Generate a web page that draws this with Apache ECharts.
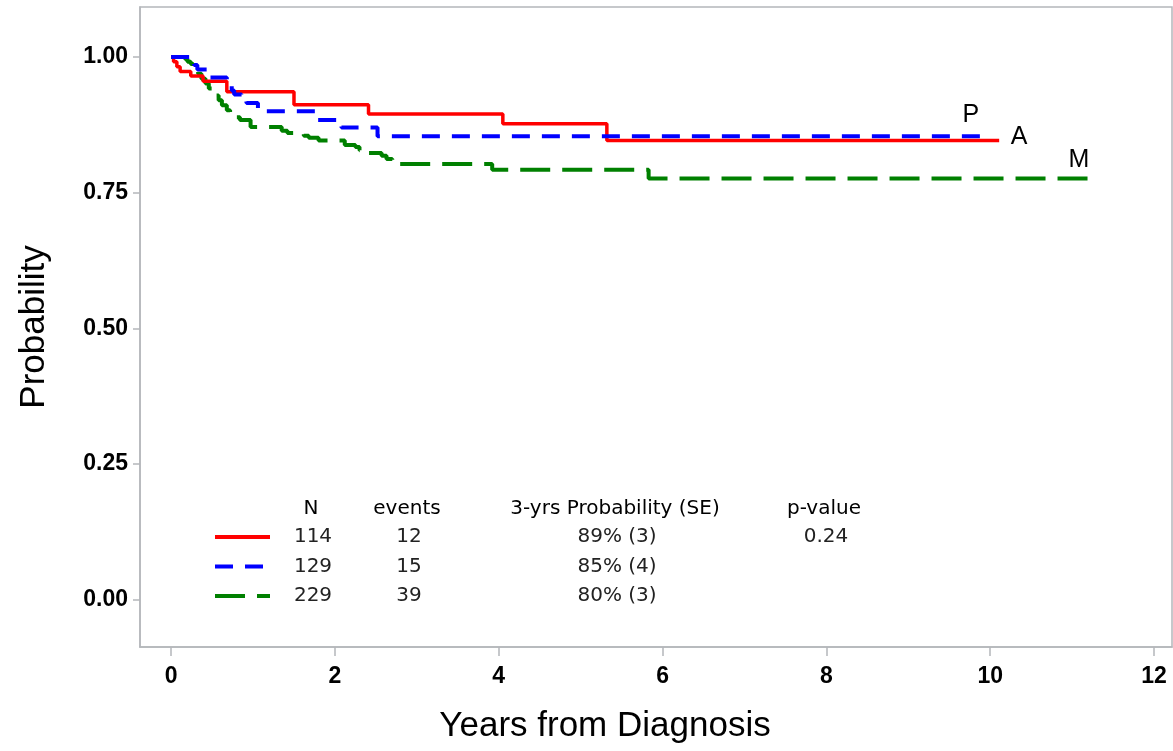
<!DOCTYPE html>
<html>
<head>
<meta charset="utf-8">
<script src="https://cdn.jsdelivr.net/npm/echarts@6/dist/echarts.min.js"></script>
<style>
html,body{margin:0;padding:0;background:#fff;}
#chart{width:1173px;height:751px;}
</style>
</head>
<body>
<div id="chart"></div>
<script>
// Group A (red, solid)
const timesA = [0, 0.03, 0.07, 0.11, 0.24, 0.39, 0.68, 1.50, 2.41, 4.05, 5.32, 10.11];
const survA  = [1.0, 0.991, 0.982, 0.973, 0.965, 0.955, 0.936, 0.912, 0.895, 0.877, 0.846, 0.846];
// Group P (blue, dashed)
const timesP = [0, 0.24, 0.28, 0.32, 0.45, 0.48, 0.68, 0.71, 0.74, 0.77, 0.86, 0.92, 1.06, 1.76, 2.04, 2.08, 2.52, 9.96];
const survP  = [1.0, 0.992, 0.985, 0.977, 0.969, 0.962, 0.954, 0.946, 0.938, 0.931, 0.923, 0.915, 0.900, 0.884, 0.877, 0.870, 0.854, 0.854];
// Group M (green, long dashed)
const timesM = [0, 0.17, 0.20, 0.24, 0.27, 0.30, 0.33, 0.37, 0.42, 0.46, 0.50, 0.55, 0.58, 0.62, 0.68, 0.72, 0.78, 0.84, 0.97, 1.35, 1.42, 1.62, 1.68, 1.80, 2.12, 2.25, 2.30, 2.35, 2.57, 2.63, 2.70, 2.78, 3.92, 5.83, 11.23];
const survM  = [1.0, 0.996, 0.991, 0.987, 0.982, 0.978, 0.969, 0.960, 0.951, 0.942, 0.938, 0.929, 0.920, 0.911, 0.902, 0.893, 0.889, 0.884, 0.871, 0.864, 0.860, 0.855, 0.851, 0.846, 0.838, 0.834, 0.828, 0.823, 0.818, 0.812, 0.807, 0.803, 0.792, 0.776, 0.776];

const groupNames = ['A', 'P', 'M'];
const groupN = ['114', '129', '229'];
const groupEvents = ['12', '15', '39'];
const groupProb3 = ['89% (3)', '85% (4)', '80% (3)'];
const groupPValue = ['0.24', '', ''];
const tableHeader = ['N', 'events', '3-yrs Probability (SE)', 'p-value'];

const xTicks = [0, 2, 4, 6, 8, 10, 12];
const yTicks = [0, 0.25, 0.5, 0.75, 1.0];

const zip = (t, s) => t.map((v, i) => [v, s[i]]);

const richCols = {
  n: {width: 76, align: 'center'},
  e: {width: 116, align: 'center'},
  p: {width: 300, align: 'center'},
  v: {width: 118, align: 'center'}
};
function richStyle(color) {
  const r = {};
  Object.keys(richCols).forEach(k => {
    r[k] = Object.assign({}, richCols[k], {fontFamily: 'DejaVu Sans', fontSize: 20, fontWeight: 'normal', color: color, lineHeight: 22});
  });
  return r;
}

const endOffsets = [[20, -3], [-16, -21], [-12, -18]];
function endMark(times, surv, idx) {
  const last = [times[times.length - 1], surv[surv.length - 1]];
  return {
    symbol: 'circle', symbolSize: 1, silent: true,
    itemStyle: {color: 'transparent'},
    label: {
      show: true, position: 'inside', offset: endOffsets[idx],
      formatter: groupNames[idx], fontFamily: 'Liberation Sans', fontSize: 25, color: '#000'
    },
    data: [{coord: last}]
  };
}

const gridGrey = '#b4b7bb';
const chart = echarts.init(document.getElementById('chart'), null, {renderer: 'canvas'});
const option = {
  backgroundColor: '#fff',
  animation: false,
  title: {
    left: 273, top: 498, padding: 0,
    text: '{n|' + tableHeader[0] + '}{e|' + tableHeader[1] + '}{p|' + tableHeader[2] + '}{v|' + tableHeader[3] + '}',
    textStyle: {fontWeight: 'normal', rich: richStyle('#000')}
  },
  legend: {
    orient: 'vertical', left: 213, top: 527, padding: 0,
    itemWidth: 55, itemHeight: 14, itemGap: 9.5,
    data: groupNames,
    itemStyle: {opacity: 0},
    lineStyle: {width: 4},
    formatter: function (name) {
      const i = groupNames.indexOf(name);
      return '{n|' + groupN[i] + '}{e|' + groupEvents[i] + '}{p|' + groupProb3[i] + '}{v|' + groupPValue[i] + '}';
    },
    textStyle: {rich: richStyle('#222')},
    selectedMode: false
  },
  grid: {
    left: 140, right: 1, top: 7, bottom: 104,
    show: true, borderColor: gridGrey, borderWidth: 1.5, containLabel: false
  },
  xAxis: {
    type: 'value', min: -0.38, max: 12.22,
    name: 'Years from Diagnosis', nameLocation: 'middle', nameGap: 62,
    nameTextStyle: {fontFamily: 'Liberation Sans', fontSize: 35, color: '#000', padding: [0, 102, 0, 0]},
    axisLine: {show: true, onZero: false, lineStyle: {color: gridGrey, width: 1.5}},
    axisTick: {show: true, length: 9, customValues: xTicks, lineStyle: {color: gridGrey, width: 1.5}},
    axisLabel: {customValues: xTicks, margin: 18, fontFamily: 'Liberation Sans', fontWeight: 'bold', fontSize: 23, color: '#000'},
    splitLine: {show: false}
  },
  yAxis: {
    type: 'value', min: -0.087, max: 1.092,
    name: 'Probability', nameLocation: 'middle', nameGap: 88,
    nameTextStyle: {fontFamily: 'Liberation Sans', fontSize: 35, color: '#000'},
    axisLine: {show: true, onZero: false, lineStyle: {color: gridGrey, width: 1.5}},
    axisTick: {show: true, length: 7, customValues: yTicks, lineStyle: {color: gridGrey, width: 1.5}},
    axisLabel: {customValues: yTicks, margin: 12, fontFamily: 'Liberation Sans', fontWeight: 'bold', fontSize: 23, color: '#000',
      formatter: v => v.toFixed(2)},
    splitLine: {show: false}
  },
  series: [
    {
      name: 'A', type: 'line', step: 'end', symbol: 'none', data: zip(timesA, survA), z: 3,
      lineStyle: {color: '#ff0000', width: 3.5, type: 'solid'}, itemStyle: {color: '#ff0000'},
      markPoint: endMark(timesA, survA, 0)
    },
    {
      name: 'P', type: 'line', step: 'end', symbol: 'none', data: zip(timesP, survP), z: 4,
      lineStyle: {color: '#0000ff', width: 4, type: [18, 12]}, itemStyle: {color: '#0000ff'},
      markPoint: endMark(timesP, survP, 1)
    },
    {
      name: 'M', type: 'line', step: 'end', symbol: 'none', data: zip(timesM, survM), z: 2,
      lineStyle: {color: '#008000', width: 4, type: [30, 12]}, itemStyle: {color: '#008000'},
      markPoint: endMark(timesM, survM, 2)
    }
  ]
};
chart.setOption(option);
</script>
</body>
</html>
